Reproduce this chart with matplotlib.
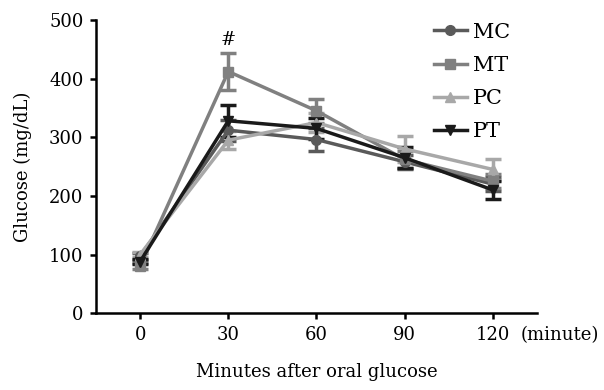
import matplotlib
matplotlib.use("Agg")
import matplotlib.pyplot as plt
from matplotlib.lines import Line2D

plt.rcParams["font.family"] = ["DejaVu Serif"]

minutes = [0, 30, 60, 90, 120]
groups = ["MC", "MT", "PC", "PT"]
mc = [97, 312, 296, 258, 220]
mc_err = [6, 18, 20, 12, 12]
mt = [80, 412, 345, 262, 225]
mt_err = [5, 32, 20, 14, 12]
pc = [100, 295, 325, 280, 245]
pc_err = [5, 15, 16, 22, 18]
pt = [88, 328, 315, 265, 210]
pt_err = [5, 27, 18, 18, 15]

values = [mc, mt, pc, pt]
errors = [mc_err, mt_err, pc_err, pt_err]
colors = ["#5a5a5a", "#808080", "#a8a8a8", "#1a1a1a"]
markers = ["o", "s", "^", "v"]

fig = plt.figure(figsize=(6.04, 3.9), dpi=100)
ax = fig.add_axes([0.159, 0.197, 0.73, 0.752])

handles = []
for name, v, e, c, m in zip(groups, values, errors, colors, markers):
  ax.errorbar(minutes, v, yerr=e, color=c, marker=m, markersize=7,
              linewidth=2.5, elinewidth=2.5, capsize=6, capthick=2.5)
  handles.append(Line2D([], [], color=c, marker=m, markersize=7,
                        linewidth=2.5, label=name))

ax.set_xlim(-15, 135)
ax.set_ylim(0, 500)
ax.set_xticks(minutes)
ax.set_yticks([0, 100, 200, 300, 400, 500])
ax.spines["top"].set_visible(False)
ax.spines["right"].set_visible(False)
ax.spines["left"].set_linewidth(1.8)
ax.spines["bottom"].set_linewidth(1.8)
ax.tick_params(labelsize=13, width=1.8, length=4, pad=5, direction="out")
ax.set_xlabel("Minutes after oral glucose", fontsize=13, labelpad=14)
ax.set_ylabel("Glucose (mg/dL)", fontsize=13, labelpad=12)

ax.annotate("(minute)", xy=(0.963, 0), xycoords="axes fraction",
            xytext=(0, -9), textcoords="offset points", fontsize=13,
            va="top", ha="left", annotation_clip=False)
ax.text(30, 450, "#", fontsize=13, ha="center", va="bottom")

ax.legend(handles=handles, loc="upper left",
          bbox_to_anchor=(415 / 604, 1 - 4 / 390),
          bbox_transform=fig.transFigure, frameon=False,
          fontsize=15, handlelength=1.6, handletextpad=0.3,
          labelspacing=0.68)

plt.savefig("out.png", dpi=100)
